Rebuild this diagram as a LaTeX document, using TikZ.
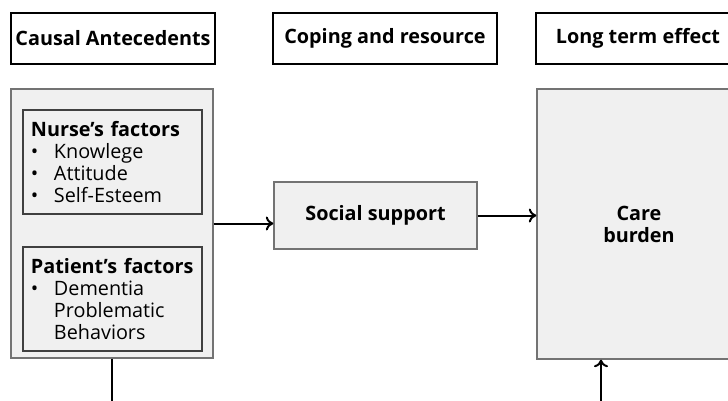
\documentclass[tikz,border=0pt]{standalone}
\usepackage{fontspec}
\setmainfont{Open Sans}
\usetikzlibrary{arrows.meta, positioning}

\newcommand{\diagfont}{\fontsize{19.8bp}{22bp}\selectfont}
\newcommand{\bul}{\makebox[23bp][l]{•}}

\tikzset{
  >={To[length=7.5bp,width=14bp]},
  head/.style={draw=black, line width=2.2bp, minimum height=51bp, inner sep=0pt, font=\diagfont\bfseries},
  panel/.style={draw=black!55, fill=black!6, line width=1.4bp, inner sep=0pt, font=\diagfont\bfseries},
  factor/.style={draw=black!75, fill=black!6, line width=1.2bp, minimum height=104bp,
    text width=163bp, inner sep=8bp, align=left, font=\diagfont},
  link/.style={line width=2bp}
}

\begin{document}
\begin{tikzpicture}[x=1bp, y=-1bp]
        \clip (0,0) rectangle (728,400);
        \fill[white] (0,0) rectangle (728,400);

        % column headings
        \node[head, minimum width=204bp] (cause) at (113,38.5) {Causal Antecedents};
        \node[head, minimum width=224bp] (cope) at (385,38.5) {Coping and resource};
        \node[head, minimum width=204bp] (effect) at (638,38.5) {Long term effect};

        % antecedents with the two groups of factors
        \node[panel, minimum width=202bp, minimum height=269bp] (ante) at (112,223.5) {};
        \node[factor] (nurse) at (112.5,162) {\textbf{Nurse’s factors}\\
            \bul Knowlege\\ \bul Attitude\\ \bul Self-Esteem};
        \node[factor] (patient) at (112.5,299) {\textbf{Patient’s factors}\\
            \bul Dementia\\ \hspace*{23bp}Problematic\\ \hspace*{23bp}Behaviors};

        \node[panel, minimum width=203bp, minimum height=67bp] (social) at (375.5,215.5) {Social support};
        \node[panel, minimum width=204bp, minimum height=270bp, align=center] (care) at (639,224) {Care\\burden};

        \coordinate (loop) at (601,420);

        \draw[link, ->] (ante.east) -- (ante.east -| social.west);
        \draw[link, ->] (social.east) -- (social.east -| care.west);
        \draw[link, ->] (ante.south) |- (loop) -- (loop |- care.south);
    \end{tikzpicture}
\end{document}
